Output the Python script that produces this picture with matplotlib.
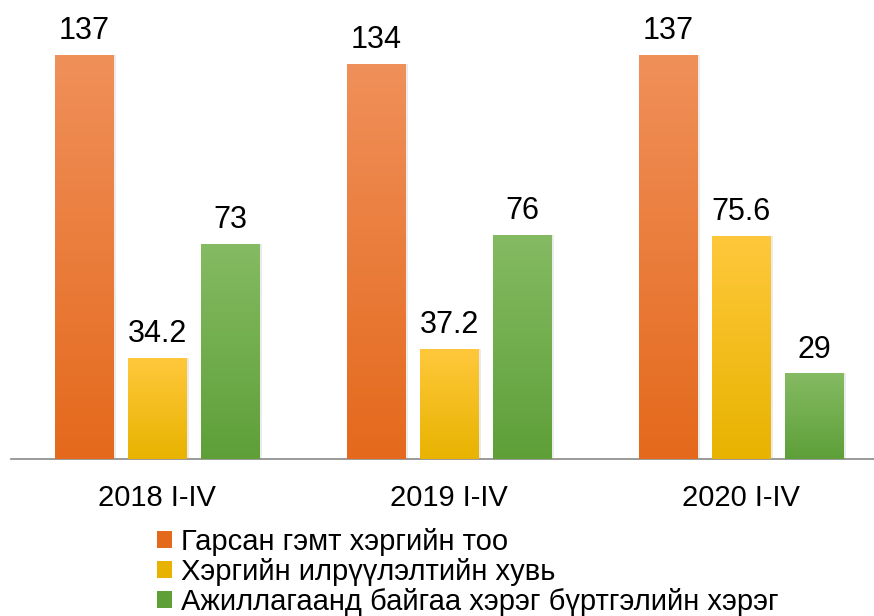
import matplotlib
matplotlib.use('Agg')
import matplotlib.pyplot as plt
from matplotlib.patches import Patch
from matplotlib.colors import LinearSegmentedColormap
import numpy as np

plt.rcParams['font.family'] = ['Liberation Sans', 'DejaVu Sans']

categories = ['2018 I-IV', '2019 I-IV', '2020 I-IV']
series_names = ['Гарсан гэмт хэргийн тоо',
                'Хэргийн илрүүлэлтийн хувь',
                'Ажиллагаанд байгаа хэрэг бүртгэлийн хэрэг']
crimes = [137, 134, 137]
detection = [34.2, 37.2, 75.6]
pending = [73, 76, 29]
value_labels = [['137', '134', '137'], ['34.2', '37.2', '75.6'], ['73', '76', '29']]

# (top colour, bottom colour) for each series
gradients = [('#f0905a', '#e4691c'),
             ('#ffc83c', '#e8b300'),
             ('#85bb63', '#5e9f38')]

fig = plt.figure(figsize=(8.74, 6.16), dpi=100)
ax = fig.add_axes([11 / 874, 157 / 616, 876 / 874, 459 / 616])

x = np.arange(len(categories))
width = 0.2
offsets = [-0.25, 0, 0.25]

for i, vals in enumerate([crimes, detection, pending]):
    top, bottom = gradients[i]
    cmap = LinearSegmentedColormap.from_list('g%d' % i, [bottom, top])
    bars = ax.bar(x + offsets[i], vals, width, color=bottom, zorder=2)
    for bar, lab in zip(bars, value_labels[i]):
        bx, bw, bh = bar.get_x(), bar.get_width(), bar.get_height()
        # soft shadow
        ax.bar(bx + bw / 2 + 0.004, bh, bw + 0.008, color='#000000', alpha=0.08, zorder=1)
        img = ax.imshow(np.linspace(0, 1, 256).reshape(-1, 1), cmap=cmap,
                        extent=[bx, bx + bw, 0, bh], origin='lower',
                        aspect='auto', zorder=3)
        img.set_clip_path(bar)
        ax.text(bx + bw / 2, bh + 3, lab, ha='center', va='bottom',
                fontsize=22, color='#000000')

ax.set_xlim(-0.5, 2.5)
ax.set_ylim(0, 155.6)
ax.set_xticks(x)
ax.set_xticklabels(categories, fontsize=21)
ax.tick_params(axis='x', length=0, pad=18)
ax.set_yticks([])
for s in ['top', 'right', 'left']:
    ax.spines[s].set_visible(False)
ax.spines['bottom'].set_color('#898989')
ax.spines['bottom'].set_linewidth(1.2)

handles = [Patch(facecolor=g[1]) for g in gradients]
fig.legend(handles, series_names, loc='upper left',
           bbox_to_anchor=(157 / 874, 1 - 528 / 616), frameon=False,
           fontsize=21, handlelength=0.52, handleheight=0.52,
           handletextpad=0.3, labelspacing=0.06, borderpad=0,
           borderaxespad=0)

fig.savefig('out.png', dpi=100)
